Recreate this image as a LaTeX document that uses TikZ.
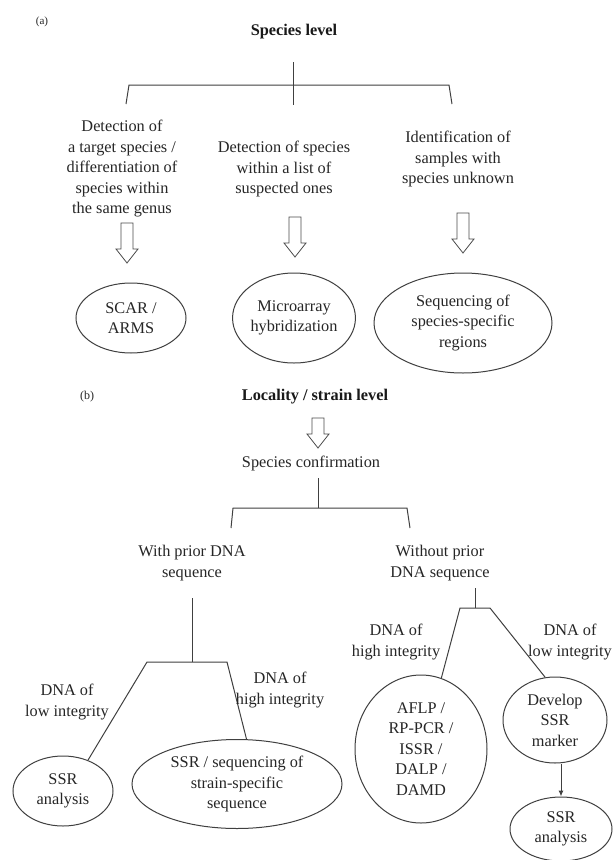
\documentclass[tikz,border=0pt]{standalone}
\usepackage{fontspec}
\setmainfont{Liberation Serif}
\usetikzlibrary{shapes.geometric,arrows.meta}
\newcommand\fs{\fontsize{16.3}{20.5}\selectfont}
\tikzset{
  ln/.style={draw=black!75, line width=1pt},
  txt/.style={align=center, inner sep=0pt, text=black!85, font=\fs},
  ttl/.style={align=center, inner sep=0pt, text=black!90, font=\fs\bfseries},
  ell/.style={ellipse, draw=black!75, line width=1pt, inner sep=0pt, align=center, text=black!85, font=\fs},
  pics/harrow/.style={code={
    \draw[draw=black!70, line width=0.8pt, fill=white]
      (-6,0) -- (6,0) -- (6,{#1-14}) -- (11,{#1-14}) -- (0,#1) -- (-11,{#1-14}) -- (-6,{#1-14}) -- cycle;
  }}
}
\begin{document}
\begin{tikzpicture}[x=1pt,y=-1pt]
\useasboundingbox[fill=white] (0,0) rectangle (613,860);

% ---------- (a) ----------
\node[txt, font=\fontsize{11}{13}\selectfont] (la) at (42,22) {(a)};
\node[ttl] (t1) at (294,32) {Species level};
\coordinate (t1b) at (293,62);
\coordinate (j1) at (293,85);
\coordinate (j1l) at (129,85);
\coordinate (j1r) at (449,85);
\coordinate (d1) at (126,104);
\coordinate (d2) at (293,105);
\coordinate (d3) at (452,104);
\draw[ln] (t1b) -- (d2);
\draw[ln] (d1) -- (j1l) -- (j1r) -- (d3);

\node[txt] (a1) at (122,169) {Detection of\\a target species /\\differentiation of\\species within\\the same genus};
\node[txt] (a2) at (284,169) {Detection of species\\within a list of\\suspected ones};
\node[txt] (a3) at (458,159) {Identification of\\samples with\\species unknown};

\pic at (127,223) {harrow=40};
\pic at (295,217) {harrow=40};
\pic at (463,213) {harrow=40};

\node[ell, minimum width=110, minimum height=70] (e1) at (131,318) {SCAR /\\ARMS};
\node[ell, minimum width=122, minimum height=90] (e2) at (294,318) {Microarray\\hybridization};
\node[ell, minimum width=178, minimum height=100] (e3) at (463,323) {Sequencing of\\species-specific\\regions};

% ---------- (b) ----------
\node[txt, font=\fontsize{12}{14}\selectfont] (lb) at (87,397) {(b)};
\node[ttl] (t2) at (315,397) {Locality / strain level};
\pic at (318,418) {harrow=30};
\node[txt] (sc) at (311,463) {Species confirmation};
\coordinate (sct) at (318,478);
\coordinate (j2) at (318,508);
\coordinate (j2l) at (233,508);
\coordinate (j2r) at (407,508);
\coordinate (d4) at (231,528);
\coordinate (d5) at (410,528);
\draw[ln] (sct) -- (j2);
\draw[ln] (d4) -- (j2l) -- (j2r) -- (d5);

\node[txt] (wp) at (192,563) {With prior DNA\\sequence};
\node[txt] (wo) at (440,563) {Without prior\\DNA sequence};

% left branch
\coordinate (wpb) at (192,598);
\coordinate (j3) at (192,662);
\coordinate (j3l) at (147,662);
\coordinate (j3r) at (227,662);
\node[ell, minimum width=100, minimum height=70] (s1) at (63,791) {SSR\\analysis};
\node[ell, minimum width=210, minimum height=89] (s2) at (237,784) {SSR / sequencing of\\strain-specific\\sequence};
\draw[ln] (wpb) -- (j3);
\draw[ln] (s1.51) -- (j3l) -- (j3r) -- (s2.78);
\node[txt] (l1) at (67,702) {DNA of\\low integrity};
\node[txt] (h1) at (280,690) {DNA of\\high integrity};

% right branch
\coordinate (wob) at (475,588);
\coordinate (j4) at (475,608);
\coordinate (j4l) at (460,608);
\coordinate (j4r) at (490,608);
\node[ell, minimum width=132, minimum height=148] (af) at (421,749) {AFLP /\\RP-PCR /\\ISSR /\\DALP /\\DAMD};
\node[ell, minimum width=104, minimum height=86] (dv) at (555,720) {Develop\\SSR\\marker};
\node[ell, minimum width=102, minimum height=64] (s3) at (561,829) {SSR\\analysis};
\draw[ln] (wob) -- (j4);
\draw[ln] (af.74) -- (j4l) -- (j4r) -- (dv.103);
\draw[ln, -{Latex[length=6pt,width=5pt]}] (dv.south -| s3.north) -- (s3.north);
\node[txt] (h2) at (396,642) {DNA of\\high integrity};
\node[txt] (l2) at (570,642) {DNA of\\low integrity};
\end{tikzpicture}
\end{document}
